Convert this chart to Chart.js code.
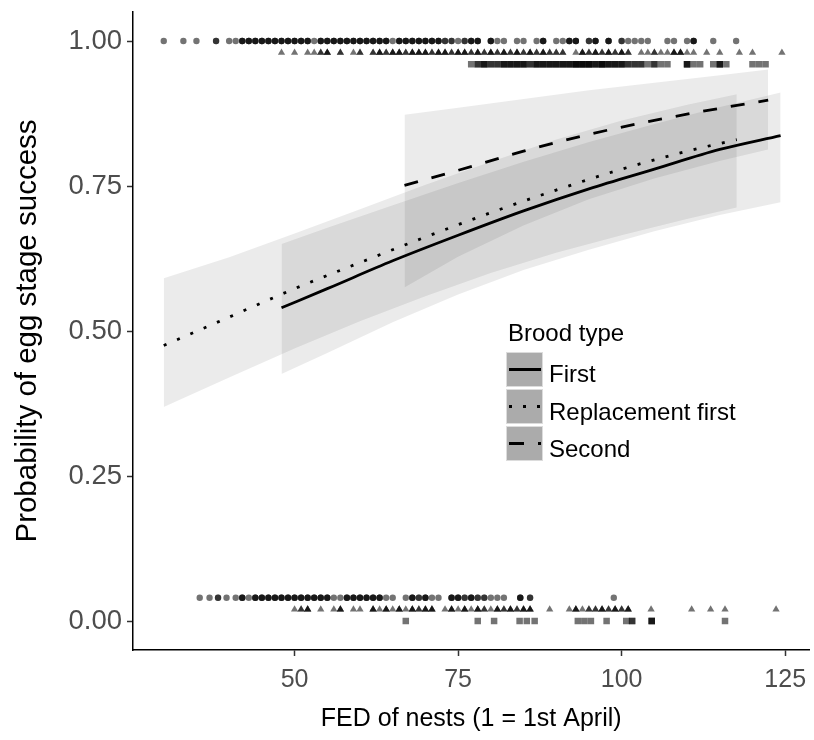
<!DOCTYPE html>
<html><head><meta charset="utf-8">
<script src="https://cdn.jsdelivr.net/npm/chart.js@4.4.1/dist/chart.umd.min.js"></script>
<style>html,body{margin:0;padding:0;background:#fff;}canvas{display:block;}</style>
</head><body>
<canvas id="c" width="814" height="740"></canvas>
<script>
// ---- categories ----
const broodTypes = ['First', 'Replacement first', 'Second'];

// ---- fitted curves with confidence ribbons ----
const firstX   = [48, 55, 65, 75, 85, 95, 105, 115, 124.3];
const firstFit = [0.540, 0.573, 0.621, 0.665, 0.707, 0.745, 0.779, 0.813, 0.837];
const firstLo  = [0.426, 0.462, 0.515, 0.563, 0.605, 0.640, 0.672, 0.700, 0.722];
const firstHi  = [0.650, 0.678, 0.717, 0.755, 0.792, 0.826, 0.857, 0.886, 0.911];

const replX   = [30, 40, 50, 60, 70, 80, 90, 100, 110, 117.6];
const replFit = [0.475, 0.524, 0.573, 0.618, 0.662, 0.704, 0.743, 0.779, 0.810, 0.830];
const replLo  = [0.369, 0.420, 0.470, 0.517, 0.560, 0.600, 0.635, 0.665, 0.693, 0.713];
const replHi  = [0.591, 0.627, 0.668, 0.710, 0.752, 0.792, 0.830, 0.863, 0.890, 0.908];

const secondX   = [66.8, 75, 85, 95, 105, 115, 122.4];
const secondFit = [0.751, 0.777, 0.810, 0.839, 0.863, 0.884, 0.898];
const secondLo  = [0.575, 0.628, 0.682, 0.727, 0.763, 0.793, 0.813];
const secondHi  = [0.873, 0.885, 0.900, 0.915, 0.928, 0.941, 0.951];

// ---- observed nests (FED), successful (top rows) and failed (bottom rows) ----
const replSuccessFED = [30,33,35,38,38,40,41,42,42,42,43,43,43,44,44,44,45,45,45,46,46,46,47,47,47,48,48,48,49,49,49,50,50,50,51,51,51,52,52,52,53,54,54,54,55,55,55,56,56,56,57,57,57,58,58,58,59,59,59,60,60,60,61,61,61,62,62,62,63,63,63,64,64,64,65,66,66,66,67,67,67,68,68,68,69,69,69,70,70,70,71,71,71,72,72,72,73,73,74,74,75,76,76,77,77,77,78,78,78,80,80,80,81,82,84,85,87,88,88,88,90,91,92,92,92,93,93,93,95,95,96,96,96,98,98,98,100,100,101,102,103,104,107,108,110,111,111,111,114,117.5];
const firstSuccessFED = [48,50,52,53,54,54,55,55,55,57,57,59,60,60,62,62,63,63,63,64,64,65,65,65,66,66,66,67,67,68,68,68,69,69,69,70,70,70,71,71,72,72,72,73,73,73,74,74,75,75,75,76,76,76,77,77,78,78,78,79,79,80,80,80,81,81,82,82,82,83,83,84,84,84,85,85,86,86,86,87,87,88,88,88,89,89,90,90,91,91,93,94,94,94,95,95,96,96,96,97,97,98,98,98,99,99,100,100,100,101,101,103,104,105,105,106,107,108,108,108,109,109,109,110,111,113,115,118,120,124.5];
const secondSuccessFED = [77,78,78,79,79,79,80,80,81,81,82,82,82,83,83,83,84,84,84,85,85,85,86,86,87,87,87,88,88,88,89,89,89,90,90,90,91,91,91,92,92,92,93,93,93,93,94,94,94,94,95,95,95,95,96,96,96,97,97,97,97,98,98,98,99,99,99,100,100,100,101,101,102,102,103,103,104,105,105,106,107,110,110,110,111,112,114,115,115,115,116,120,121,122];

const replFailFED = [35.5,37,38.3,38.3,39.6,41,42,42,42,43,44,44,44,45,45,45,46,46,46,47,47,47,48,48,48,49,49,49,50,50,50,51,51,51,52,52,52,53,53,53,54,54,54,55,55,55,56,57,58,58,58,59,59,59,60,60,60,61,61,61,62,62,62,63,63,63,64,65,67,68,68,68,69,69,70,70,70,71,72,74,74,74,75,75,75,76,76,77,77,77,78,78,79,79,80,81,82,84.5,84.5,84.5,86,86,98.8];
const firstFailFED = [50,51,51,52,52,52,54,56,57,57,57,59,60,62,62,62,63,64,64,64,65,66,66,66,67,68,68,68,69,69,70,70,70,71,71,71,73,74,74,74,75,76,76,76,77,78,78,78,79,79,80,81,81,81,82,82,83,83,83,84,84,85,85,85,86,86,86,89,92,93,93,93,94,95,95,96,96,97,97,97,98,98,99,99,99,100,100,101,101,101,104.5,110.7,113.6,115.8,123.6];
const secondFailFED = [67,78,80.5,84.4,85.5,86.7,93.3,94.3,95.3,97.7,100.7,101.6,101.6,104.6,104.6,104.6,115.8];

// rug row heights (success rows near 1, failure rows near 0)
const successRowY = [0.98, 1.00, 0.96];   // First, Replacement first, Second
const failRowY    = [0.02, 0.04, 0.00];

// ---- axis ticks ----
const xTicks = [50, 75, 100, 125];
const yTicks = [0, 0.25, 0.5, 0.75, 1];
const yTickLabels = ['0.00', '0.25', '0.50', '0.75', '1.00'];

const pts = (xs, ys) => xs.map((x, i) => ({x, y: ys[i]}));
const rowPts = (xs, y) => xs.map(x => ({x, y}));

const ribbonFill = 'rgba(0,0,0,0.08)';
const ptColor = 'rgba(0,0,0,0.55)';
const lineW = 2.8;

function ribbon(xs, lo, hi) {
  return [
    {type: 'line', data: pts(xs, lo), borderWidth: 0, pointRadius: 0, fill: false, order: 3, borderColor: 'rgba(0,0,0,0)'},
    {type: 'line', data: pts(xs, hi), borderWidth: 0, pointRadius: 0, fill: '-1', backgroundColor: ribbonFill, order: 3, borderColor: 'rgba(0,0,0,0)'}
  ];
}
function fitLine(xs, ys, dash) {
  return {type: 'line', data: pts(xs, ys), borderColor: '#000', borderWidth: lineW, borderDash: dash,
    borderCapStyle: 'butt', pointRadius: 0, fill: false, cubicInterpolationMode: 'monotone', order: 2};
}
function rug(xs, y, style, r) {
  return {type: 'scatter', data: rowPts(xs, y), pointStyle: style, pointRadius: r, pointHoverRadius: r,
    backgroundColor: ptColor, borderWidth: 0, borderColor: 'rgba(0,0,0,0)', order: 1};
}

const datasets = [
  ...ribbon(replX, replLo, replHi),
  ...ribbon(firstX, firstLo, firstHi),
  ...ribbon(secondX, secondLo, secondHi),
  fitLine(firstX, firstFit, []),
  fitLine(replX, replFit, [3, 11.5]),
  fitLine(secondX, secondFit, [14, 14]),
  rug(replSuccessFED, successRowY[1], 'circle', 3.2),
  rug(firstSuccessFED, successRowY[0], 'triangle', 4.2),
  rug(secondSuccessFED, successRowY[2], 'rect', 4.6),
  rug(replFailFED, failRowY[1], 'circle', 3.2),
  rug(firstFailFED, failRowY[0], 'triangle', 4.2),
  rug(secondFailFED, failRowY[2], 'rect', 4.6)
];

const FONT = '"Liberation Sans", Arial, Helvetica, sans-serif';

const legendPlugin = {
  id: 'broodLegend',
  afterDatasetsDraw(chart) {
    const ctx = chart.ctx;
    ctx.save();
    ctx.fillStyle = '#000';
    ctx.textBaseline = 'alphabetic';
    ctx.textAlign = 'left';
    ctx.font = '24px ' + FONT;
    ctx.fillText('Brood type', 508, 341);
    const keyX = 506, keyW = 37, keyH = 35;
    const tops = [352, 389, 426];
    const dashes = [[], [3, 11], [15, 14]];
    const baselines = [382, 420, 457];
    broodTypes.forEach((name, i) => {
      ctx.fillStyle = '#ababab';
      ctx.fillRect(keyX, tops[i], keyW, keyH);
      ctx.strokeStyle = '#dcdcdc';
      ctx.lineWidth = 1;
      ctx.strokeRect(keyX + 0.5, tops[i] + 0.5, keyW - 1, keyH - 1);
      ctx.strokeStyle = '#000';
      ctx.lineWidth = 3;
      ctx.lineCap = 'butt';
      ctx.setLineDash(dashes[i]);
      ctx.beginPath();
      const cy = tops[i] + keyH / 2;
      ctx.moveTo(keyX + 3, cy);
      ctx.lineTo(keyX + keyW - 2, cy);
      ctx.stroke();
      ctx.setLineDash([]);
      ctx.fillStyle = '#000';
      ctx.font = '24px ' + FONT;
      ctx.fillText(name, 549, baselines[i]);
    });
    ctx.restore();
  }
};

new Chart(document.getElementById('c'), {
  type: 'line',
  data: {datasets},
  options: {
    responsive: false,
    devicePixelRatio: 1,
    animation: false,
    events: [],
    layout: {padding: {top: 12, right: 0, left: 0, bottom: 0}},
    plugins: {legend: {display: false}, tooltip: {enabled: false}},
    scales: {
      x: {
        type: 'linear', min: 25.3, max: 128.7,
        afterFit: s => { s.height = 90; s.paddingLeft = 0; s.paddingRight = 0; },
        afterBuildTicks: s => { s.ticks = xTicks.map(v => ({value: v})); },
        grid: {drawOnChartArea: false, drawTicks: true, tickLength: 6, tickColor: '#333', tickWidth: 1.5},
        border: {display: true, color: '#000', width: 1.5},
        ticks: {color: '#4d4d4d', font: {family: FONT, size: 25}, padding: 9, maxRotation: 0,
          callback: v => String(v)},
        title: {display: true, text: 'FED of nests (1 = 1st April)', color: '#000',
          font: {family: FONT, size: 25}, padding: {top: 0, bottom: 6}}
      },
      y: {
        type: 'linear', min: -0.05, max: 1.05,
        afterFit: s => { s.width = 133; s.paddingTop = 0; s.paddingBottom = 0; },
        afterBuildTicks: s => { s.ticks = yTicks.map(v => ({value: v})); },
        grid: {drawOnChartArea: false, drawTicks: true, tickLength: 6, tickColor: '#333', tickWidth: 1.5},
        border: {display: true, color: '#000', width: 1.5},
        ticks: {color: '#4d4d4d', font: {family: FONT, size: 27.5}, padding: 5,
          callback: (v) => yTickLabels[yTicks.indexOf(v)]},
        title: {display: true, text: 'Probability of egg stage success', color: '#000',
          font: {family: FONT, size: 29.5}, padding: {top: 10, bottom: 0}}
      }
    }
  },
  plugins: [legendPlugin]
});
</script>
</body></html>
